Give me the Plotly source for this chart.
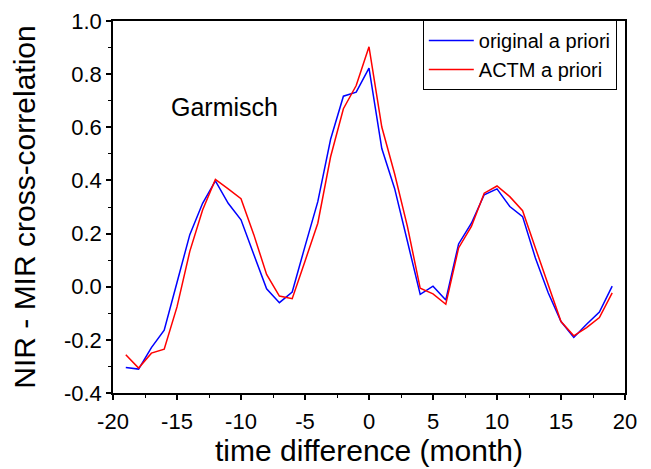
import plotly.graph_objects as go

months = list(range(-19, 20))
original_a_priori = [-0.304, -0.310, -0.229, -0.164, 0.016, 0.196, 0.314, 0.398, 0.314, 0.252,
                     0.121, -0.008, -0.060, -0.020, 0.152, 0.320, 0.555, 0.717, 0.732, 0.823,
                     0.520, 0.370, 0.171, -0.029, 0.002, -0.050, 0.161, 0.239, 0.346, 0.368,
                     0.302, 0.264, 0.108, -0.023, -0.131, -0.191, -0.141, -0.095, 0.002]
actm_a_priori = [-0.256, -0.306, -0.250, -0.235, -0.076, 0.133, 0.289, 0.404, 0.368, 0.331,
                 0.196, 0.046, -0.035, -0.045, 0.096, 0.239, 0.489, 0.670, 0.757, 0.903,
                 0.601, 0.425, 0.227, -0.006, -0.027, -0.066, 0.146, 0.227, 0.352, 0.379,
                 0.339, 0.286, 0.146, 0.009, -0.131, -0.185, -0.154, -0.116, -0.023]

x_tick_vals = [-20, -15, -10, -5, 0, 5, 10, 15, 20]
x_tick_text = ["-20", "-15", "-10", "-5", "0", "5", "10", "15", "20"]
y_tick_vals = [-0.4, -0.2, 0.0, 0.2, 0.4, 0.6, 0.8, 1.0]
y_tick_text = ["-0.4", "-0.2", "0.0", "0.2", "0.4", "0.6", "0.8", "1.0"]

FONT = "Liberation Sans, Arial, sans-serif"

fig = go.Figure()
fig.add_trace(go.Scatter(x=months, y=original_a_priori, mode="lines",
                         name="original a priori", line=dict(color="#0000ff", width=1.5)))
fig.add_trace(go.Scatter(x=months, y=actm_a_priori, mode="lines",
                         name="ACTM a priori", line=dict(color="#ff0000", width=1.5)))

fig.add_annotation(x=-11.3, y=0.675, text="Garmisch", showarrow=False,
                   font=dict(family=FONT, size=25, color="black"))

axis_common = dict(showgrid=False, zeroline=False, showline=True, linecolor="black",
                   linewidth=1.5, mirror=True, ticks="outside", ticklen=5, tickwidth=1.5,
                   tickcolor="black", tickfont=dict(family=FONT, size=22, color="black"),
                   ticklabeloverflow="allow", automargin=False)

fig.update_xaxes(range=[-20, 20], tickvals=x_tick_vals, ticktext=x_tick_text,
                 minor=dict(dtick=2.5, ticks="outside", ticklen=3, tickwidth=1, tickcolor="black"),
                 title=dict(text="time difference (month)", font=dict(family=FONT, size=30, color="black"),
                            standoff=6),
                 ticklabelstandoff=3,
                 **axis_common)
fig.update_yaxes(range=[-0.4, 1.0], tickvals=y_tick_vals, ticktext=y_tick_text,
                 minor=dict(dtick=0.1, ticks="outside", ticklen=3, tickwidth=1, tickcolor="black"),
                 title=dict(text="NIR - MIR cross-correlation", font=dict(family=FONT, size=30, color="black"),
                            standoff=21),
                 **axis_common)

fig.update_layout(
    template="none",
    width=651, height=469,
    margin=dict(l=105, r=34, t=13, b=84, pad=0),
    paper_bgcolor="white", plot_bgcolor="white",
    font=dict(family=FONT, color="black"),
    showlegend=True,
    legend=dict(x=0.984, y=1.003, xanchor="right", yanchor="top",
                bgcolor="white", bordercolor="black", borderwidth=1,
                font=dict(family=FONT, size=20, color="black"),
                tracegroupgap=0, itemwidth=45),
)

fig.write_html("out.html")
